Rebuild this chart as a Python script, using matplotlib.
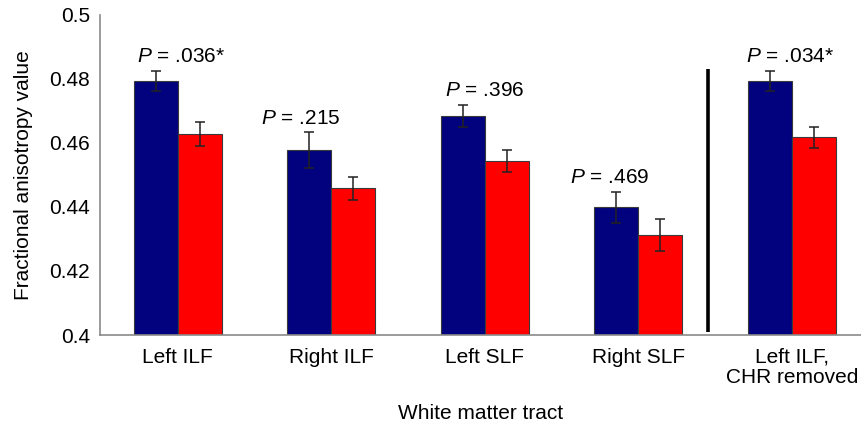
import numpy as np
import matplotlib
matplotlib.use("Agg")
import matplotlib.pyplot as plt

plt.rcParams['font.family'] = ['Liberation Sans', 'DejaVu Sans']
plt.rcParams['mathtext.fontset'] = 'custom'
plt.rcParams['mathtext.rm'] = 'Liberation Sans'
plt.rcParams['mathtext.it'] = 'Liberation Sans:italic'

# data
tracts = ['Left ILF', 'Right ILF', 'Left SLF', 'Right SLF', 'Left ILF,\nCHR removed']
blue_vals = [0.4794, 0.4578, 0.4684, 0.4399, 0.4794]
blue_err = [0.0031, 0.0055, 0.0034, 0.0049, 0.0031]
red_vals = [0.4628, 0.4458, 0.4544, 0.4313, 0.4617]
red_err = [0.0038, 0.0037, 0.0034, 0.0050, 0.0032]
p_labels = ['$P$ = .036*', '$P$ = .215', '$P$ = .396', '$P$ = .469', '$P$ = .034*']

# small horizontal nudges of the P labels (in category units)
p_shift = [0.02, -0.2, 0.0, -0.19, -0.01]

blue = '#02027e'
red = '#fe0000'
edge = '#3a3a3a'
axis_grey = '#8a8a8a'

fig = plt.figure(figsize=(8.61, 4.23), dpi=100)
ax = fig.add_axes([0.116, 0.208, 0.884, 0.757])

x = np.arange(len(tracts))
w = 0.287
err_kw = dict(ecolor='#222222', elinewidth=1.1, capsize=3.5, capthick=1.1)
ax.bar(x - w / 2, blue_vals, w, color=blue, edgecolor=edge, linewidth=0.8,
       yerr=blue_err, error_kw=err_kw, zorder=2)
ax.bar(x + w / 2, red_vals, w, color=red, edgecolor=edge, linewidth=0.8,
       yerr=red_err, error_kw=err_kw, zorder=2)

for i, lab in enumerate(p_labels):
    top = blue_vals[i] + blue_err[i]
    ax.text(x[i] + p_shift[i], top + 0.0015, lab, ha='center', va='bottom',
            fontsize=15)

# separator between the main tracts and the CHR-removed analysis
ax.plot([3.453, 3.453], [0.4009, 0.4831], color='black', linewidth=2.6,
        solid_capstyle='butt', zorder=3)

ax.set_ylim(0.4, 0.5)
ax.set_xlim(-0.508, 4.45)
ax.set_yticks([0.4, 0.42, 0.44, 0.46, 0.48, 0.5])
ax.set_yticklabels(['0.4', '0.42', '0.44', '0.46', '0.48', '0.5'])
ax.set_xticks(x)
ax.set_xticklabels(tracts, linespacing=1.1)
ax.tick_params(axis='both', length=0, labelsize=15)
ax.tick_params(axis='y', pad=7)
ax.tick_params(axis='x', pad=9)

for s in ['top', 'right']:
    ax.spines[s].set_visible(False)
for s in ['left', 'bottom']:
    ax.spines[s].set_color(axis_grey)
    ax.spines[s].set_linewidth(1.2)

ax.set_ylabel('Fractional anisotropy value', fontsize=15, labelpad=12)
ax.set_xlabel('White matter tract', fontsize=15, labelpad=12)

fig.savefig('out.png', dpi=100)
